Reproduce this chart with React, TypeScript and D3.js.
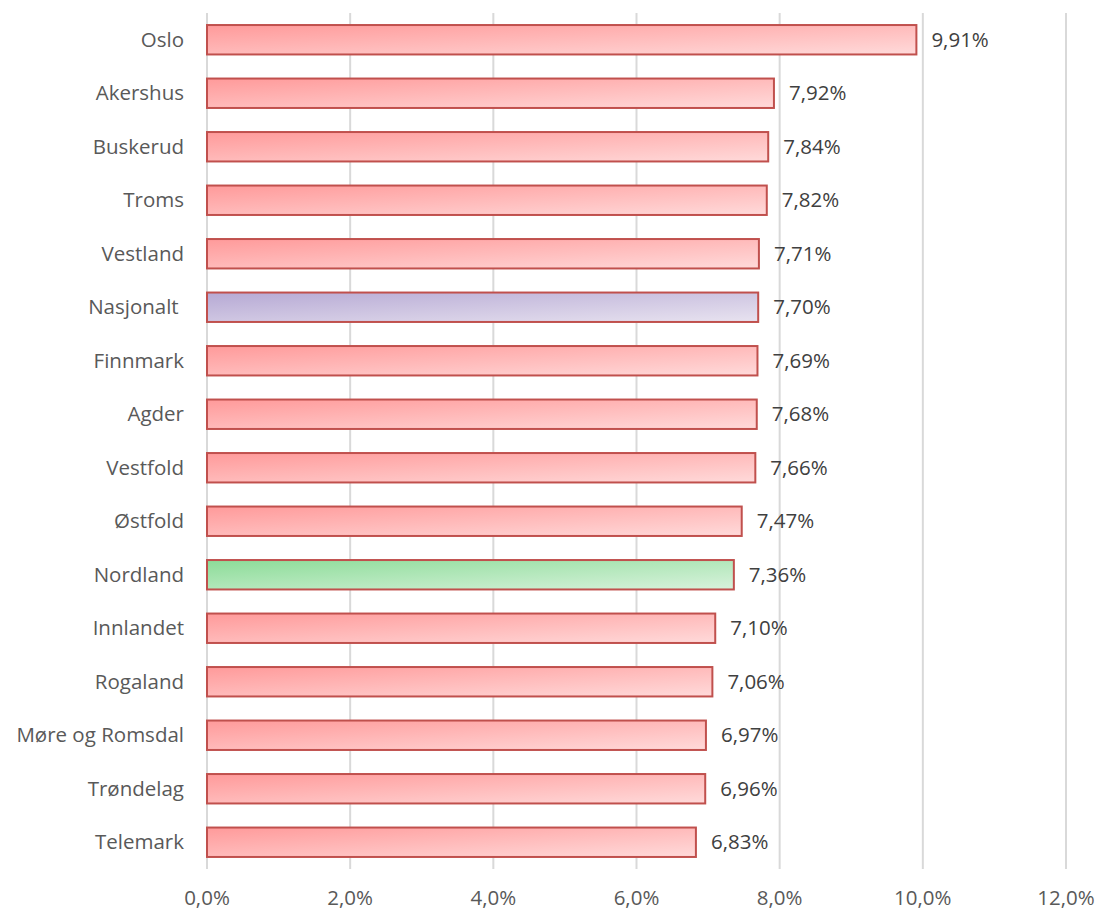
import React from "react";
import * as d3 from "d3";

const categories = [
  "Oslo", "Akershus", "Buskerud", "Troms", "Vestland", "Nasjonalt ", "Finnmark", "Agder",
  "Vestfold", "Østfold", "Nordland", "Innlandet", "Rogaland", "Møre og Romsdal", "Trøndelag", "Telemark",
];
const values = [9.91, 7.92, 7.84, 7.82, 7.71, 7.70, 7.69, 7.68, 7.66, 7.47, 7.36, 7.10, 7.06, 6.97, 6.96, 6.83];
const highlight = ["red", "red", "red", "red", "red", "purple", "red", "red", "red", "red", "green", "red", "red", "red", "red", "red"];
const ticks = [0, 2, 4, 6, 8, 10, 12];

const W = 1099, H = 911;
const left = 207, right = 1066, top = 13, bottom = 869;

const fmt = (v: number, d: number) => v.toFixed(d).replace(".", ",") + "%";

export default function App() {
  const x = d3.scaleLinear().domain([0, 12]).range([left, right]);
  const y = d3.scaleBand<string>().domain(categories).range([top, bottom]).paddingInner(0.45).paddingOuter(0.225);
  const font = "'Open Sans', sans-serif";
  const fs = 20.5;
  const grads: Record<string, [string, string]> = {
    red: ["#ff9a9a", "#ffdada"],
    purple: ["#b6a9d4", "#e8e3f0"],
    green: ["#8cdc98", "#d8f2dc"],
  };
  return (
    <svg width={W} height={H} style={{ position: "absolute", left: 0, top: 0, background: "#fff" }}>
      <defs>
        {Object.entries(grads).map(([k, [a, b]]) => (
          <linearGradient key={k} id={"g-" + k} x1="0" y1="0" x2="1" y2="1">
            <stop offset="0" stopColor={a} />
            <stop offset="1" stopColor={b} />
          </linearGradient>
        ))}
      </defs>
      {ticks.map((t) => (
        <line key={t} x1={x(t)} x2={x(t)} y1={top} y2={bottom} stroke="#d9d9d9" strokeWidth={2} />
      ))}
      {categories.map((c, i) => {
        const by = y(c)!;
        const bh = y.bandwidth();
        const xe = x(values[i]);
        return (
          <g key={c}>
            <rect x={x(0)} y={by} width={xe - x(0)} height={bh} fill={`url(#g-${highlight[i]})`} stroke="#c0504d" strokeWidth={2} />
            <text x={184} y={by + bh / 2} dy="0.35em" textAnchor="end" fontFamily={font} fontSize={fs} fill="#595959" style={{ whiteSpace: "pre" }}>{c}</text>
            <text x={xe + 15} y={by + bh / 2} dy="0.35em" textAnchor="start" fontFamily={font} fontSize={fs} fill="#404040">{fmt(values[i], 2)}</text>
          </g>
        );
      })}
      {ticks.map((t) => (
        <text key={t} x={x(t)} y={898} dy="0.35em" textAnchor="middle" fontFamily={font} fontSize={fs} fill="#595959">{fmt(t, 1)}</text>
      ))}
    </svg>
  );
}
